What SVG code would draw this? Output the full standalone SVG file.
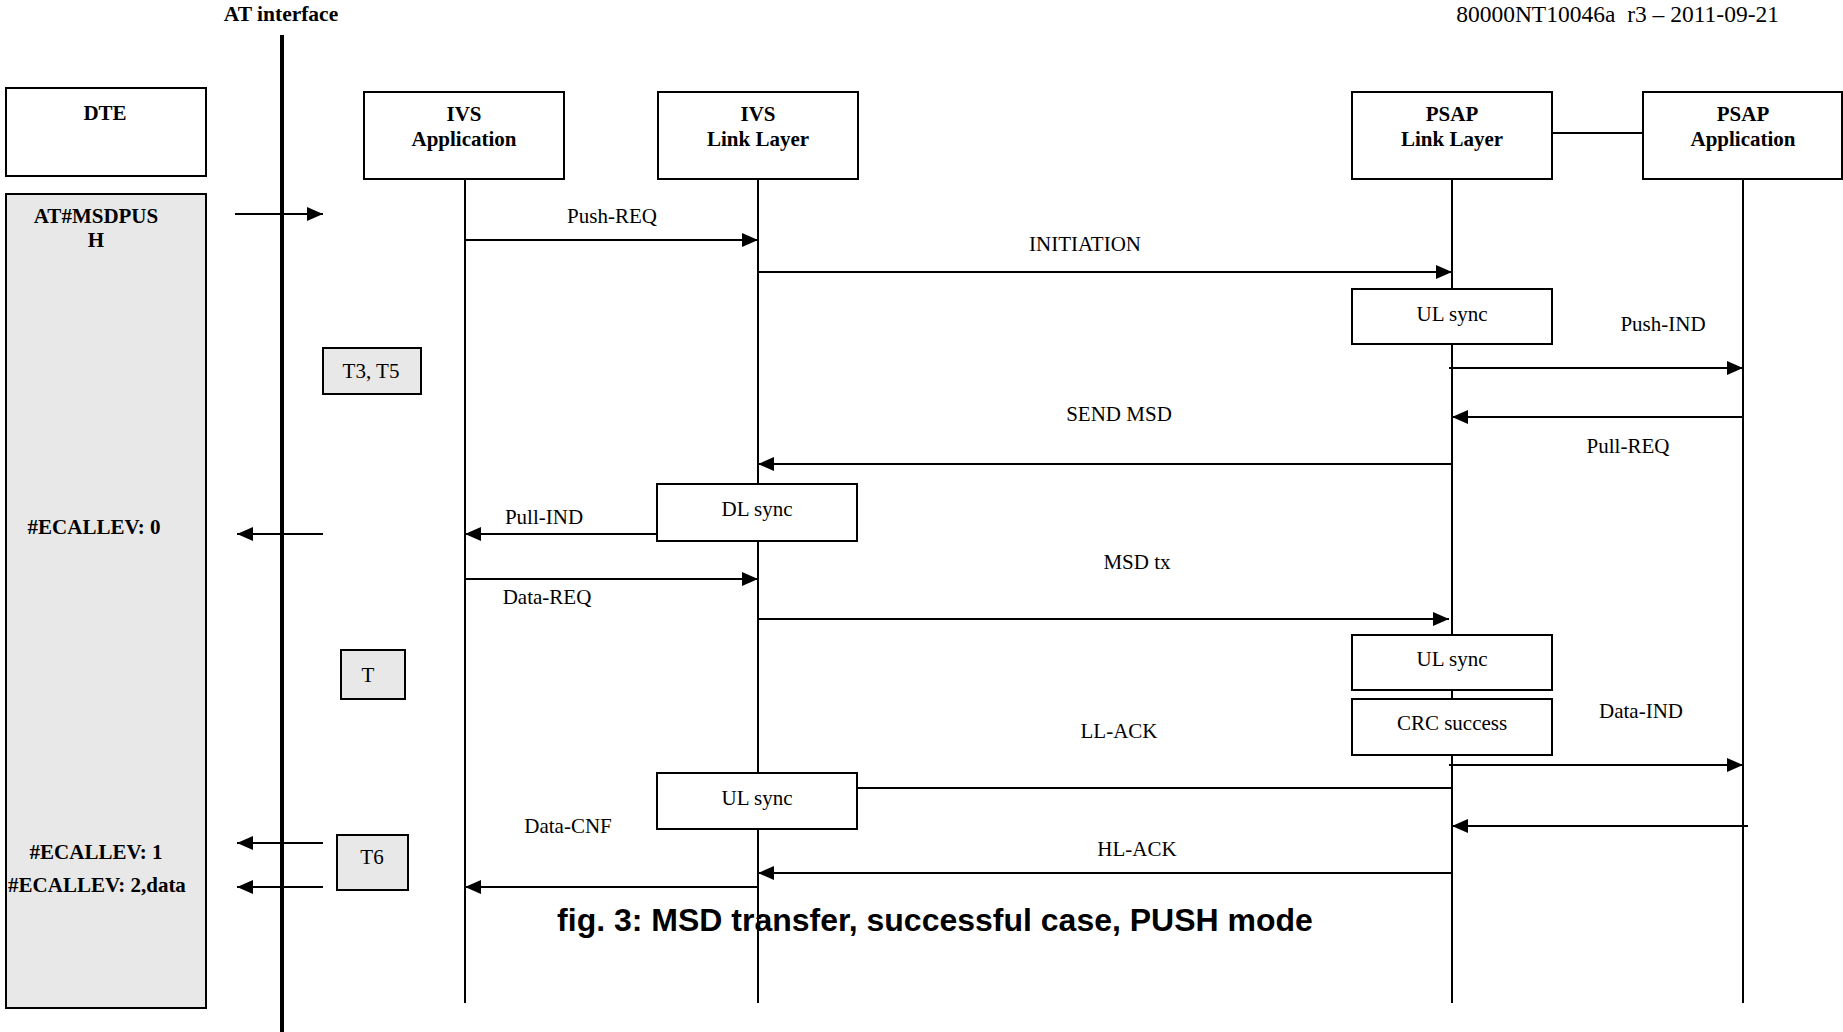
<svg xmlns="http://www.w3.org/2000/svg" width="1843" height="1032" viewBox="0 0 1843 1032">
<style>
.t{font-family:"Liberation Serif","Times New Roman",serif;font-size:21px;fill:#000}
.b{font-weight:bold}
.m{text-anchor:middle}
.box{fill:#fff;stroke:#000;stroke-width:2}
.gbox{fill:#e8e8e8;stroke:#000;stroke-width:2}
.ll{stroke:#000;stroke-width:2;fill:none}
.msg{stroke:#000;stroke-width:2;fill:none}
.cap{font-family:"Liberation Sans",Arial,sans-serif;font-weight:bold;font-size:32px;text-anchor:middle}
</style>
<defs>
<marker id="ah" markerUnits="userSpaceOnUse" markerWidth="16" markerHeight="14" refX="16" refY="7" orient="auto">
<path d="M0,0 L16,7 L0,14 z" fill="#000"/>
</marker>
</defs>
<rect width="1843" height="1032" fill="#fff"/>
<text class="t b m" x="281" y="21" style="font-size:21.5px">AT interface</text>
<text class="t" x="1779" y="22" text-anchor="end" style="font-size:23.5px" xml:space="preserve">80000NT10046a  r3 – 2011-09-21</text>
<line x1="282" y1="35" x2="282" y2="1032" stroke="#000" stroke-width="4"/>

<g id="lifelines">
<line class="ll" x1="465" y1="179" x2="465" y2="1003"/>
<line class="ll" x1="758" y1="179" x2="758" y2="1003"/>
<line class="ll" x1="1452" y1="179" x2="1452" y2="1003"/>
<line class="ll" x1="1743" y1="179" x2="1743" y2="1003"/>
</g>

<g id="connectors">
<line class="msg" x1="1552" y1="133" x2="1643" y2="133"/>
<line class="msg" x1="235" y1="214" x2="323" y2="214" marker-end="url(#ah)"/>
<line class="msg" x1="465" y1="240" x2="758" y2="240" marker-end="url(#ah)"/>
<line class="msg" x1="758" y1="272" x2="1452" y2="272" marker-end="url(#ah)"/>
<line class="msg" x1="1449" y1="368" x2="1743" y2="368" marker-end="url(#ah)"/>
<line class="msg" x1="1743" y1="417" x2="1452" y2="417" marker-end="url(#ah)"/>
<line class="msg" x1="1452" y1="464" x2="758" y2="464" marker-end="url(#ah)"/>
<line class="msg" x1="657" y1="534" x2="465" y2="534" marker-end="url(#ah)"/>
<line class="msg" x1="323" y1="534" x2="237" y2="534" marker-end="url(#ah)"/>
<line class="msg" x1="465" y1="579" x2="758" y2="579" marker-end="url(#ah)"/>
<line class="msg" x1="758" y1="619" x2="1449" y2="619" marker-end="url(#ah)"/>
<line class="msg" x1="1449" y1="765" x2="1743" y2="765" marker-end="url(#ah)"/>
<line class="msg" x1="857" y1="788" x2="1452" y2="788"/>
<line class="msg" x1="1748" y1="826" x2="1452" y2="826" marker-end="url(#ah)"/>
<line class="msg" x1="1452" y1="873" x2="758" y2="873" marker-end="url(#ah)"/>
<line class="msg" x1="758" y1="887" x2="465" y2="887" marker-end="url(#ah)"/>
<line class="msg" x1="323" y1="843" x2="237" y2="843" marker-end="url(#ah)"/>
<line class="msg" x1="323" y1="887" x2="237" y2="887" marker-end="url(#ah)"/>
</g>

<g id="dte">
<rect class="box" x="6" y="88" width="200" height="88"/>
<text class="t b m" x="105" y="120">DTE</text>
</g>
<g id="dte-events">
<rect class="gbox" x="6" y="194" width="200" height="814"/>
<text class="t b m" x="96" y="223">AT#MSDPUS</text>
<text class="t b m" x="96" y="247">H</text>
<text class="t b m" x="94" y="534">#ECALLEV: 0</text>
<text class="t b m" x="96" y="859">#ECALLEV: 1</text>
<text class="t b m" x="97" y="892">#ECALLEV: 2,data</text>
</g>
<g id="ivs-app">
<rect class="box" x="364" y="92" width="200" height="87"/>
<text class="t b m" x="464" y="121">IVS</text>
<text class="t b m" x="464" y="146">Application</text>
</g>
<g id="ivs-ll">
<rect class="box" x="658" y="92" width="200" height="87"/>
<text class="t b m" x="758" y="121">IVS</text>
<text class="t b m" x="758" y="146">Link Layer</text>
</g>
<g id="psap-ll">
<rect class="box" x="1352" y="92" width="200" height="87"/>
<text class="t b m" x="1452" y="121">PSAP</text>
<text class="t b m" x="1452" y="146">Link Layer</text>
</g>
<g id="psap-app">
<rect class="box" x="1643" y="92" width="199" height="87"/>
<text class="t b m" x="1743" y="121">PSAP</text>
<text class="t b m" x="1743" y="146">Application</text>
</g>

<g id="ul-sync-1"><rect class="box" x="1352" y="289" width="200" height="55"/><text class="t m" x="1452" y="321">UL sync</text></g>
<g id="t3t5"><rect class="gbox" x="323" y="348" width="98" height="46"/><text class="t m" x="371" y="378">T3, T5</text></g>
<g id="dl-sync"><rect class="box" x="657" y="484" width="200" height="57"/><text class="t m" x="757" y="516">DL sync</text></g>
<g id="ul-sync-2"><rect class="box" x="1352" y="635" width="200" height="55"/><text class="t m" x="1452" y="666">UL sync</text></g>
<g id="crc"><rect class="box" x="1352" y="699" width="200" height="56"/><text class="t m" x="1452" y="730">CRC success</text></g>
<g id="t"><rect class="gbox" x="341" y="650" width="64" height="49"/><text class="t m" x="368" y="682">T</text></g>
<g id="ul-sync-3"><rect class="box" x="657" y="773" width="200" height="56"/><text class="t m" x="757" y="805">UL sync</text></g>
<g id="t6"><rect class="gbox" x="337" y="835" width="71" height="55"/><text class="t m" x="372" y="864">T6</text></g>

<g id="labels">
<text class="t m" x="612" y="223">Push-REQ</text>
<text class="t m" x="1085" y="251">INITIATION</text>
<text class="t m" x="1663" y="331">Push-IND</text>
<text class="t m" x="1119" y="421">SEND MSD</text>
<text class="t m" x="1628" y="453">Pull-REQ</text>
<text class="t m" x="544" y="524">Pull-IND</text>
<text class="t m" x="547" y="604">Data-REQ</text>
<text class="t m" x="1137" y="569">MSD tx</text>
<text class="t m" x="1641" y="718">Data-IND</text>
<text class="t m" x="1119" y="738">LL-ACK</text>
<text class="t m" x="568" y="833">Data-CNF</text>
<text class="t m" x="1137" y="856">HL-ACK</text>
</g>
<text class="cap" x="935" y="931">fig. 3: MSD transfer, successful case, PUSH mode</text>
</svg>
